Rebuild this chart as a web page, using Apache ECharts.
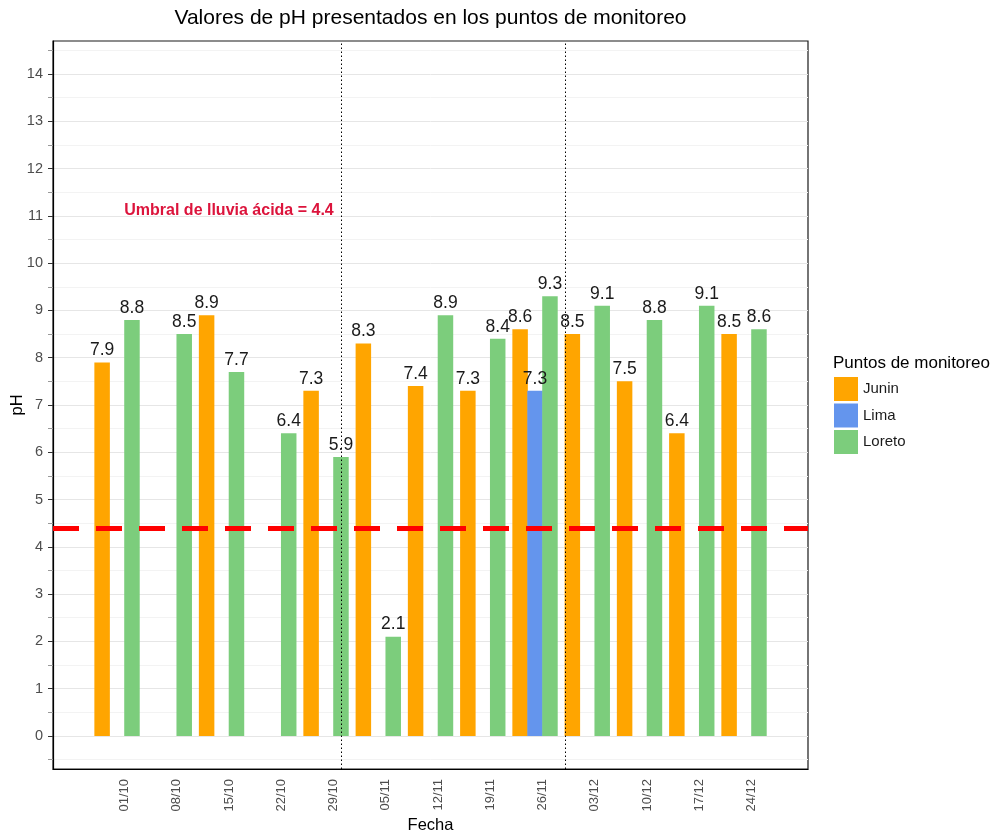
<!DOCTYPE html>
<html>
<head>
<meta charset="utf-8">
<script src="https://cdn.jsdelivr.net/npm/echarts@6/dist/echarts.min.js"></script>
<style>html,body{margin:0;padding:0;background:#fff}#c{width:995px;height:834px}</style>
</head>
<body>
<div id="c"></div>
<script>
// ---- data (dates dd/mm, pH values) ----
const YEAR = 2021;
const tickLabels = ['01/10','08/10','15/10','22/10','29/10','05/11','12/11','19/11','26/11','03/12','10/12','17/12','24/12'];
const junDates = ['28/09','12/10','26/10','02/11','09/11','16/11','23/11','30/11','07/12','14/12','21/12'];
const junVals  = [7.9, 8.9, 7.3, 8.3, 7.4, 7.3, 8.6, 8.5, 7.5, 6.4, 8.5];
const limaDates = ['25/11'];
const limaVals  = [7.3];
const lorDates = ['02/10','09/10','16/10','23/10','30/10','06/11','13/11','20/11','27/11','04/12','11/12','18/12','25/12'];
const lorVals  = [8.8, 8.5, 7.7, 6.4, 5.9, 2.1, 8.9, 8.4, 9.3, 9.1, 8.8, 9.1, 8.6];
const threshold = 4.4;
const vlineDates = ['30/10','29/11'];
const annotation = {date: '15/10', y: 11.12, text: 'Umbral de lluvia ácida = 4.4'};
const yMajor = [0,1,2,3,4,5,6,7,8,9,10,11,12,13,14];
const yMinor = [-0.5,0.5,1.5,2.5,3.5,4.5,5.5,6.5,7.5,8.5,9.5,10.5,11.5,12.5,13.5,14.5];

// day offset from 01/10
const ORIGIN = Date.UTC(YEAR, 9, 1);
function toDay(s){ const [d,m] = s.split('/').map(Number); return (Date.UTC(YEAR, m-1, d) - ORIGIN)/864e5; }
const tickDays = tickLabels.map(toDay);

const FONT = 'Liberation Sans, Arial, sans-serif';
const colors = {Junin:'#FFA500', Lima:'#6495ED', Loreto:'#7CCD7C'};

function barSeries(name, dates, vals, extra){
  return Object.assign({
    type:'bar', name, barWidth:15.5, barGap:'-100%',
    itemStyle:{color: colors[name]},
    data: dates.map((d,i)=>[toDay(d), vals[i]]),
    label:{show:true, position:'top', distance:3, fontSize:17.5, fontFamily:FONT, color:'#1a1a1a',
      formatter: p => p.value[1].toFixed(1)}
  }, extra || {});
}

const chart = echarts.init(document.getElementById('c'), null, {renderer:'canvas'});
chart.setOption({
  animation:false,
  backgroundColor:'#fff',
  textStyle:{fontFamily:FONT},
  grid:{left:53, right:187, top:41, bottom:65, show:true, borderColor:'#1a1a1a', borderWidth:1.2,
    containLabel:false, outerBoundsMode:'none'},
  graphic:[
    {type:'text', x:430.5, y:18, style:{text:'Valores de pH presentados en los puntos de monitoreo', align:'center', verticalAlign:'middle', font:'21px '+FONT, fill:'#000'}},
    {type:'text', x:833, y:363, style:{text:'Puntos de monitoreo', align:'left', verticalAlign:'middle', font:'17px '+FONT, fill:'#000'}}
  ],
  legend:{orient:'vertical', left:829, top:372, itemWidth:24, itemHeight:24, itemGap:2.5, icon:'rect',
    textStyle:{fontSize:15, color:'#1a1a1a', fontFamily:FONT}, data:['Junin','Lima','Loreto'], selectedMode:false},
  xAxis:{type:'value', min:-9.58, max:91.57, name:'Fecha', nameLocation:'middle', nameGap:48, nameMoveOverlap:false,
    nameTextStyle:{fontSize:16.5, color:'#000', fontFamily:FONT},
    axisLine:{show:true, onZero:false, lineStyle:{color:'#000', width:1.2}},
    axisTick:{show:false, customValues:tickDays},
    splitLine:{show:false},
    axisLabel:{customValues:tickDays, rotate:90, margin:10, fontSize:13, color:'#4d4d4d', fontFamily:FONT,
      formatter: v => { const i = tickDays.indexOf(Math.round(v)); return i>=0 ? tickLabels[i] : ''; }}
  },
  yAxis:[
    {type:'value', min:-0.7, max:14.7, name:'pH', nameLocation:'middle', nameGap:27, nameMoveOverlap:false,
      nameTextStyle:{fontSize:16.5, color:'#000', fontFamily:FONT},
      axisLine:{show:true, onZero:false, lineStyle:{color:'#000', width:1.2}},
      axisTick:{show:true, customValues:yMajor, length:5, lineStyle:{color:'#333'}},
      axisLabel:{customValues:yMajor, margin:10, fontSize:14.5, color:'#4d4d4d', fontFamily:FONT},
      splitLine:{show:true, lineStyle:{color:'#e6e6e6', width:1}}
    },
    {type:'value', min:-0.7, max:14.7, position:'left',
      axisLine:{show:false, onZero:false}, axisLabel:{show:false},
      axisTick:{show:true, customValues:yMinor, length:5, lineStyle:{color:'#999'}},
      splitLine:{show:true, lineStyle:{color:'#f3f3f3', width:1}}
    }
  ],
  series:[
    barSeries('Junin', junDates, junVals, {
      markLine:{silent:true, symbol:['none','none'], label:{show:false}, z:5,
        data:[{yAxis:threshold, lineStyle:{color:'#ff0000', width:5, type:[26,17]}}].concat(
          vlineDates.map(d=>({xAxis:toDay(d), lineStyle:{color:'#000', width:1, type:[1.5,2.5]}})))
      }
    }),
    barSeries('Lima', limaDates, limaVals, {
      markPoint:{silent:true, symbol:'rect', symbolSize:[1,1], itemStyle:{color:'rgba(0,0,0,0)'},
        data:[{coord:[toDay(annotation.date), annotation.y]}],
        label:{show:true, position:'inside', formatter:annotation.text, fontSize:16, fontWeight:'bold', color:'#dc143c', fontFamily:FONT}
      }
    }),
    barSeries('Loreto', lorDates, lorVals)
  ]
});
</script>
</body>
</html>
